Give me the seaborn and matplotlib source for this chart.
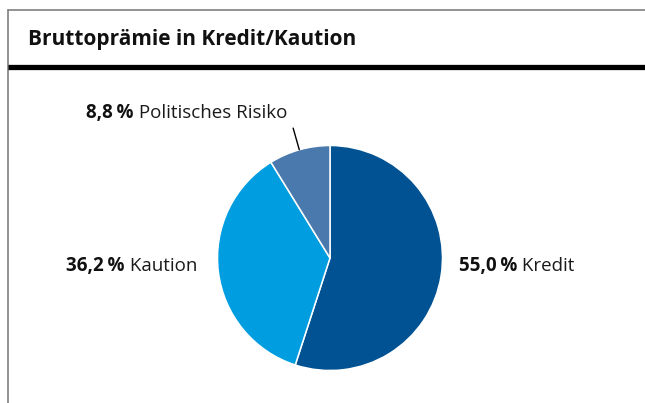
import numpy as np
import matplotlib
matplotlib.use("Agg")
import matplotlib.pyplot as plt
from matplotlib.lines import Line2D
import seaborn as sns

# Data
segments = ["Kredit", "Kaution", "Politisches Risiko"]
shares = [55.0, 36.2, 8.8]
colors = ["#005293", "#009ee0", "#4a79ad"]

title = "Bruttoprämie in Kredit/Kaution"

W, H, DPI = 645, 403, 100

sns.set_theme(style="white")
plt.rcParams["font.family"] = ["Open Sans", "DejaVu Sans"]

fig = plt.figure(figsize=(W / DPI, H / DPI), dpi=DPI)
fig.patch.set_facecolor("white")


def px(x, y):
    """pixel coords (top-left origin) -> figure fraction"""
    return x / W, 1 - y / H


# frame: thin gray top and left border, thick black rule under the title
fig.add_artist(Line2D([px(8, 0)[0], 1.0], [px(0, 9.5)[1]] * 2,
                      color="#808080", lw=1.2, transform=fig.transFigure))
fig.add_artist(Line2D([px(8, 0)[0]] * 2, [px(0, 9.5)[1], 0.0],
                      color="#808080", lw=1.2, transform=fig.transFigure))
fig.add_artist(Line2D([px(8, 0)[0], 1.0], [px(0, 66.5)[1]] * 2,
                      color="black", lw=3.8, transform=fig.transFigure,
                      solid_capstyle="butt"))

tx, ty = px(28, 39)
fig.text(tx, ty, title, fontsize=15, fontweight="bold", fontstretch="normal",
         color="#111111", ha="left", va="center")

# pie axes: centre (330, 258) px, radius ~112.5 px
cx, cy, r = 330, 258, 112.5
l, b = px(cx - r, cy + r)
ax = fig.add_axes([l, b, 2 * r / W, 2 * r / H])
wedges, _ = ax.pie(shares, colors=colors, startangle=90, counterclock=False,
                   radius=1.0, frame=False,
                   wedgeprops=dict(edgecolor="white", linewidth=1.1))
ax.set_xlim(-1, 1)
ax.set_ylim(-1, 1)
ax.set_aspect("equal")
ax.axis("off")

FS = 13.5
renderer = fig.canvas.get_renderer()


def fmt(v):
    return f"{v:.1f}".replace(".", ",") + "\u2009%"


def label(x, y, value, name, align="left"):
    """bold value + regular name on a common baseline; x is left or right end"""
    bold = dict(fontsize=FS, fontweight="bold", fontstretch="normal",
                color="#111111", va="baseline")
    reg = dict(fontsize=FS, fontweight="normal", fontstretch="normal",
               color="#1a1a1a", va="baseline")
    inv = ax.transData.inverted()
    if align == "left":
        t = ax.text(x, y, fmt(value), ha="left", **bold)
        x1 = t.get_window_extent(renderer).x1
        xd = inv.transform((x1, 0))[0]
        ax.text(xd, y, " " + name, ha="left", **reg)
    else:
        n = ax.text(x, y, " " + name, ha="right", **reg)
        x0 = n.get_window_extent(renderer).x0
        xd = inv.transform((x0, 0))[0]
        ax.text(xd, y, fmt(value), ha="right", **bold)


# baselines in pie-axes units (radius = 1)
label((459 - cx) / r, (cy - 271) / r, shares[0], segments[0])
label((197 - cx) / r, (cy - 271) / r, shares[1], segments[1], align="right")
label((287 - cx) / r, (cy - 118.5) / r, shares[2], segments[2], align="right")

# leader line for the small slice, along its mid angle
th1, th2 = wedges[2].theta1, wedges[2].theta2
mid = np.deg2rad((th1 + th2) / 2)
ax.plot([1.0 * np.cos(mid), 1.2 * np.cos(mid)],
        [1.0 * np.sin(mid), 1.2 * np.sin(mid)],
        color="black", lw=1.0, clip_on=False)

fig.savefig("out.png", dpi=DPI, facecolor="white")
